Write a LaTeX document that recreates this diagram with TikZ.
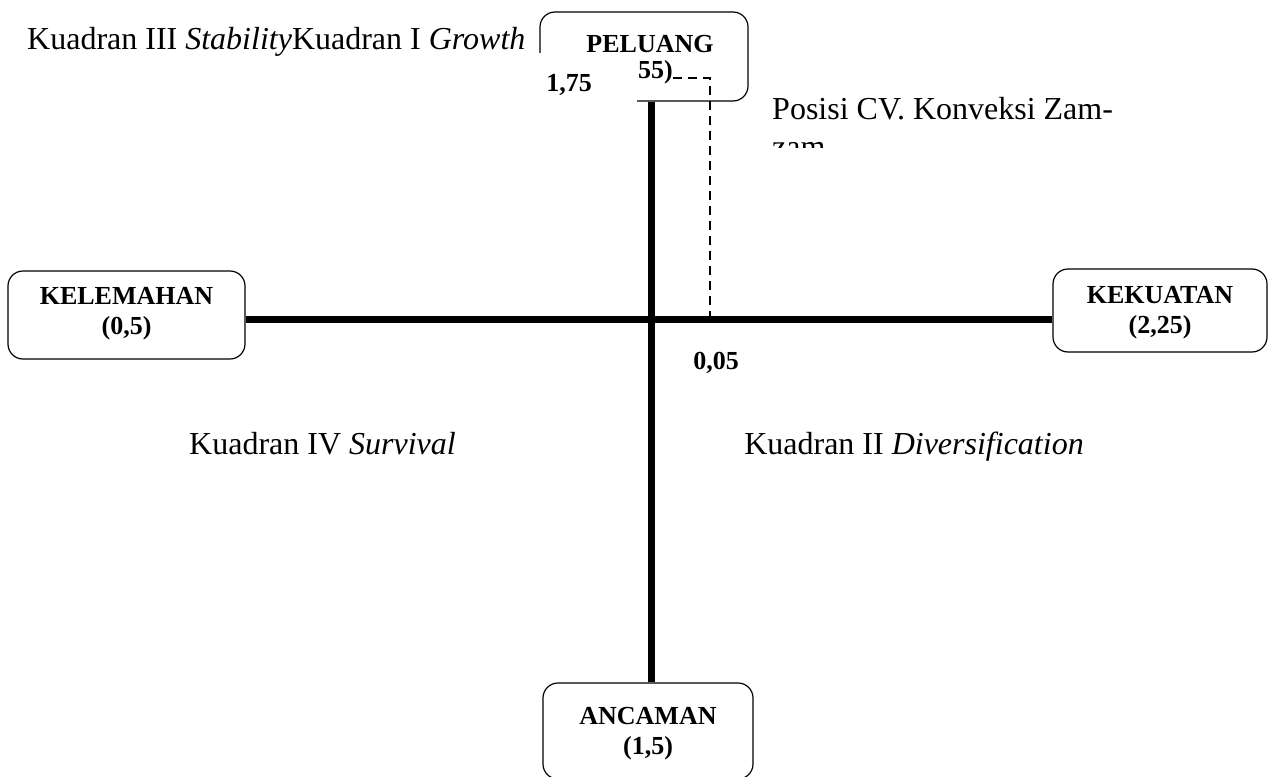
\documentclass[tikz,border=0pt]{standalone}
\usepackage{fontspec}
\setmainfont{Liberation Serif}
\begin{document}
\begin{tikzpicture}[x=1pt,y=-1pt,
  box/.style={draw, line width=1.2pt, rounded corners=15pt, inner sep=0pt},
  boxtext/.style={align=center, inner sep=0pt, font=\fontsize{26}{30}\selectfont\bfseries},
  axis/.style={line width=7pt},
  dashline/.style={line width=1.5pt, dash pattern=on 9pt off 6pt},
  lbl/.style={inner sep=0pt, font=\fontsize{32}{38}\selectfont},
  num/.style={inner sep=0pt, font=\fontsize{26}{30}\selectfont\bfseries}]
\useasboundingbox (0,0) rectangle (1271,776);
% boxes
\node[box, minimum width=237pt, minimum height=88pt] (kel) at (126.5,315) {};
\node[boxtext] (keltxt) at (126.5,313.5) {KELEMAHAN\\(0,5)};
\node[box, minimum width=214pt, minimum height=83pt] (kek) at (1160,310.5) {};
\node[boxtext] (kektxt) at (1160,313) {KEKUATAN\\(2,25)};
\node[box, minimum width=208pt, minimum height=89pt] (pel) at (644,56.5) {};
\node[num] (peltxt) at (650,44) {PELUANG};
\node[box, minimum width=210pt, minimum height=96pt] (anc) at (648,731) {};
\node[boxtext] (anctxt) at (648,734) {ANCAMAN\\(1,5)};
% axes
\coordinate (c) at (651,319);
\draw[axis] (kel.east |- c) -- (kek.west |- c);
\draw[axis] (pel.south -| c) -- (anc.north -| c);
% position value
\node[num, anchor=west] (v55) at (638,72) {55)};
\coordinate (d1) at (710,78);
\draw[dashline] (v55.east |- d1) -- (d1) -- (d1 |- c);
% cover of lower-left part of PELUANG box
\fill[white] (515,53) rectangle (637,112);
\node[num] (v175) at (569,85) {1,75};
\node[num] (v005) at (716,363) {0,05};
% quadrant labels
\node[lbl, anchor=base west] (q31) at (27,50) {Kuadran III \textit{Stability}Kuadran I \textit{Growth}};
\node[lbl, anchor=base] (q4) at (322.5,454) {Kuadran IV \textit{Survival}};
\node[lbl, anchor=base] (q2) at (914,454) {Kuadran II \textit{Diversification}};
\begin{scope}
\clip (740,85) rectangle (1200,147);
\node[lbl, anchor=base west] (pos) at (772,119) {Posisi CV. Konveksi Zam-};
\node[lbl, anchor=base west] (pos2) at (772,157) {zam};
\end{scope}
\end{tikzpicture}
\end{document}
